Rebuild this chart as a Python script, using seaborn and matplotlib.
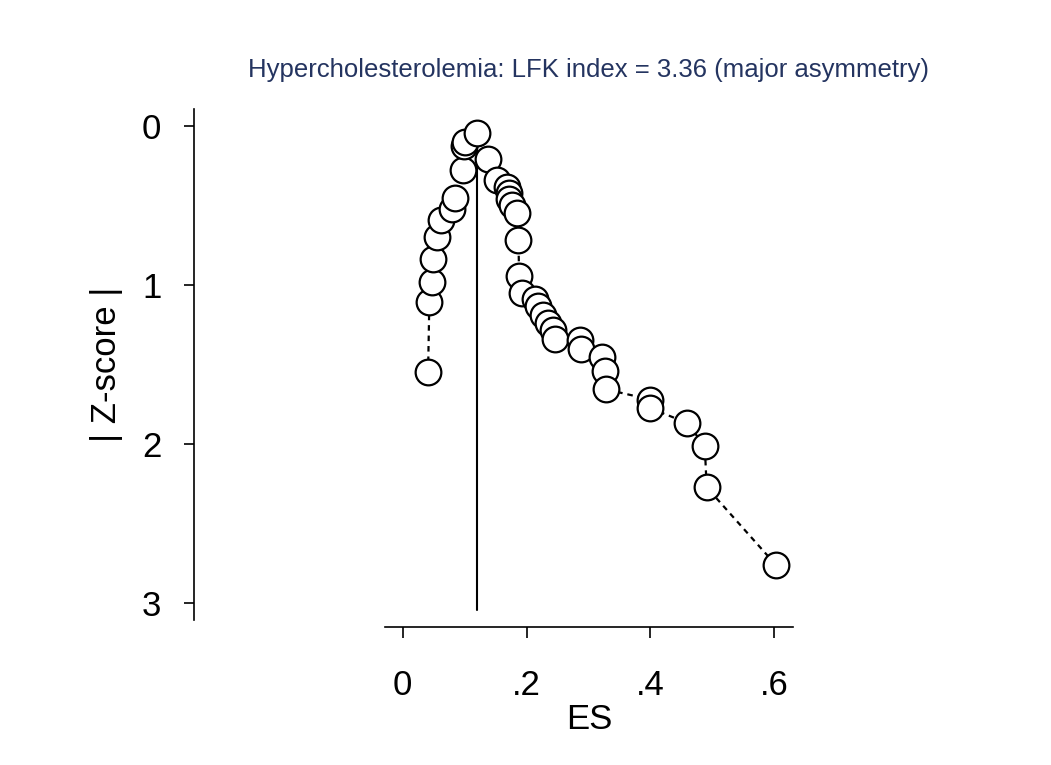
import matplotlib
matplotlib.use("Agg")
import matplotlib.pyplot as plt
import seaborn as sns
import pandas as pd

# Data (Doi plot)
es = [0.041, 0.043, 0.048, 0.049, 0.056, 0.062, 0.079, 0.085, 0.097, 0.099,
      0.100, 0.120, 0.138, 0.152, 0.168, 0.171, 0.172, 0.176, 0.184, 0.187,
      0.188, 0.192, 0.214, 0.219, 0.227, 0.235, 0.242, 0.246, 0.286, 0.288,
      0.322, 0.327, 0.328, 0.400, 0.400, 0.459, 0.488, 0.491, 0.603]
zscore = [1.55, 1.11, 0.98, 0.84, 0.70, 0.59, 0.525, 0.456, 0.28, 0.125,
          0.10, 0.048, 0.21, 0.34, 0.387, 0.425, 0.46, 0.498, 0.55, 0.72,
          0.944, 1.053, 1.09, 1.133, 1.189, 1.237, 1.283, 1.342, 1.346, 1.40,
          1.45, 1.54, 1.656, 1.72, 1.775, 1.866, 2.012, 2.271, 2.76]
ref_es = 0.12
x_ticks = [0, 0.2, 0.4, 0.6]
x_ticklabels = ["0", ".2", ".4", ".6"]
y_ticks = [0, 1, 2, 3]
y_ticklabels = ["0", "1", "2", "3"]
title = "Hypercholesterolemia: LFK index = 3.36 (major asymmetry)"

df = pd.DataFrame({"ES": es, "Z": zscore})

sns.set_theme(style="white")
plt.rcParams["font.family"] = ["Liberation Sans", "DejaVu Sans"]

fig = plt.figure(figsize=(10.51, 7.65), dpi=100)
fig.patch.set_facecolor("white")
ax = fig.add_axes([385 / 1051, 1 - 620 / 765, 408 / 1051, 511 / 765])
ax.set_facecolor("white")

# reference vertical line
ax.plot([ref_es, ref_es], [0, 3.04], color="black", lw=1.5, zorder=1)

# dashed connecting line
sns.lineplot(data=df, x="ES", y="Z", sort=False, estimator=None, ax=ax,
             color="black", lw=1.6, linestyle=(0, (2.5, 2.2)), zorder=2)

# points
sns.scatterplot(data=df, x="ES", y="Z", ax=ax, s=18.5 ** 2, marker="o",
                facecolor="white", edgecolor="black", linewidth=1.6, zorder=3)

ax.set_xlim(-0.0286, 0.6305)
ax.set_ylim(3.105, -0.105)

ax.set_xticks(x_ticks)
ax.set_xticklabels(x_ticklabels)
ax.set_yticks(y_ticks)
ax.set_yticklabels(y_ticklabels)

for s in ["top", "right"]:
    ax.spines[s].set_visible(False)
for s in ["left", "bottom"]:
    ax.spines[s].set_color("black")
    ax.spines[s].set_linewidth(1.2)
ax.spines["left"].set_position(("outward", 137.5))
ax.spines["bottom"].set_position(("outward", 5))

ax.tick_params(axis="x", which="major", direction="out", length=8, width=1.2,
               color="black", pad=22, labelsize=25, labelcolor="black", bottom=True)
ax.tick_params(axis="y", which="major", direction="out", length=7.5, width=1.2,
               color="black", pad=16, labelsize=25, labelcolor="black", left=True)

ax.set_xlabel("ES", fontsize=25, color="black", labelpad=1)
ax.set_ylabel("| Z-score |", fontsize=25, color="black", labelpad=14)
ax.grid(False)

fig.text(589 / 1051, 1 - 70 / 765, title, ha="center", va="center",
         fontsize=18.5, color="#243460")

fig.savefig("out.png", dpi=100, facecolor="white")
